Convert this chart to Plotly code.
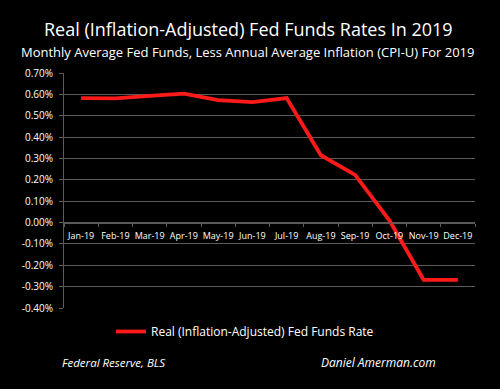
import plotly.graph_objects as go

months = ["Jan-19", "Feb-19", "Mar-19", "Apr-19", "May-19", "Jun-19",
          "Jul-19", "Aug-19", "Sep-19", "Oct-19", "Nov-19", "Dec-19"]
real_rate = [0.582, 0.581, 0.593, 0.603, 0.573, 0.564,
             0.583, 0.315, 0.223, 0.010, -0.268, -0.268]
y_tickvals = [0.7, 0.6, 0.5, 0.4, 0.3, 0.2, 0.1, 0.0, -0.1, -0.2, -0.3, -0.4]
y_ticktext = ["0.70%", "0.60%", "0.50%", "0.40%", "0.30%", "0.20%", "0.10%",
              "0.00%", "-0.10%", "-0.20%", "-0.30%", "-0.40%"]

series_name = "Real (Inflation-Adjusted) Fed Funds Rate"
title = "Real (Inflation-Adjusted) Fed Funds Rates In 2019"
subtitle = "Monthly Average Fed Funds, Less Annual Average Inflation (CPI-U) For 2019"

FONT = "Open Sans"
GRID = "#5a5a5a"

fig = go.Figure()
fig.add_trace(go.Scatter(
    x=months, y=real_rate, mode="lines", name=series_name,
    line=dict(color="#ff1a1a", width=3.8),
))

ymin, ymax = -0.4, 0.7
PL, PR, PT, PB = 64, 475, 73, 308
PW, PH = PR - PL, PB - PT


def px_x(x):
    return (x - PL) / PW


def px_y(y):
    return (PB - y) / PH


ann = [
    dict(text=title, xref="paper", yref="paper", x=px_x(248), y=px_y(29),
         xanchor="center", yanchor="middle", showarrow=False,
         font=dict(size=18, color="white", family=FONT)),
    dict(text=subtitle, xref="paper", yref="paper", x=px_x(247), y=px_y(52),
         xanchor="center", yanchor="middle", showarrow=False,
         font=dict(size=13, color="white", family=FONT)),
    dict(text="<i>Federal Reserve, BLS</i>", xref="paper", yref="paper",
         x=px_x(60), y=px_y(362), xanchor="left", yanchor="middle",
         showarrow=False, font=dict(size=11.5, color="white", family=FONT)),
    dict(text="<i>Daniel Amerman.com</i>", xref="paper", yref="paper",
         x=px_x(319), y=px_y(362), xanchor="left", yanchor="middle",
         showarrow=False, font=dict(size=12, color="white", family=FONT)),
]

fig.update_layout(
    width=500, height=389,
    paper_bgcolor="black", plot_bgcolor="black",
    margin=dict(l=PL, r=500 - PR, t=PT, b=389 - PB, pad=0),
    font=dict(family=FONT, color="white"),
    showlegend=True,
    legend=dict(orientation="h", x=px_x(111), xanchor="left", y=px_y(317), yanchor="top",
                font=dict(size=12, color="white"), bgcolor="rgba(0,0,0,0)"),
    xaxis=dict(
        type="category", range=[-0.5, 11.5],
        anchor="free", position=(0 - ymin) / (ymax - ymin),
        showline=True, linecolor=GRID, linewidth=1,
        showgrid=False, zeroline=False,
        ticks="outside", tickson="boundaries", ticklen=3, tickcolor=GRID,
        tickfont=dict(size=9, color="white", family=FONT),
        tickangle=0, ticklabelstandoff=5,
    ),
    yaxis=dict(
        range=[ymin, ymax], tickvals=y_tickvals, ticktext=y_ticktext,
        showline=True, linecolor=GRID, linewidth=1,
        showgrid=True, gridcolor=GRID, gridwidth=1, zeroline=False,
        ticks="outside", ticklen=4, tickcolor=GRID,
        tickfont=dict(size=10, color="white", family=FONT),
        ticklabelstandoff=4,
    ),
    annotations=ann,
)

fig.write_html("out.html", config={"displayModeBar": False},
               post_script="document.body.style.margin='0';document.body.style.background='black';")
